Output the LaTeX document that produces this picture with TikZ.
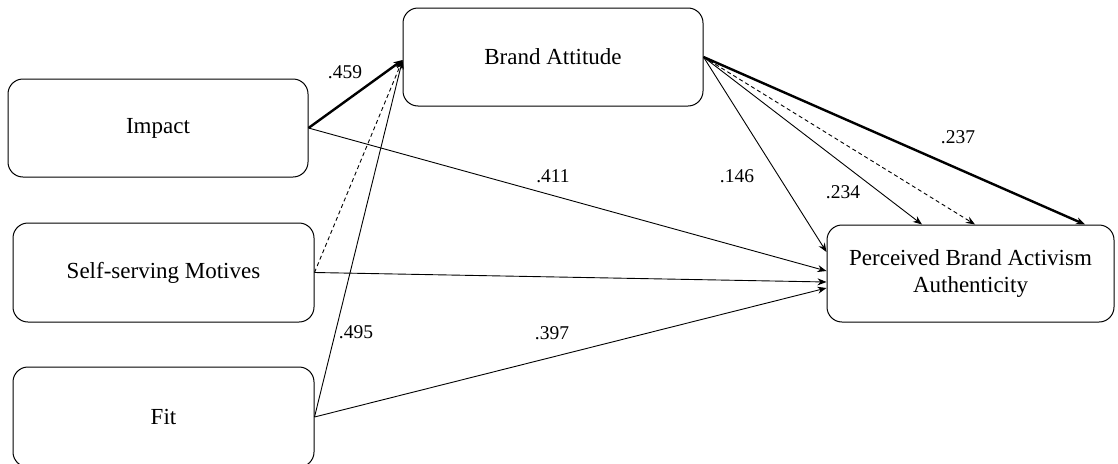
\documentclass[tikz,border=0pt]{standalone}
\usepackage{fontspec}
\setmainfont{Liberation Serif}
\usetikzlibrary{arrows.meta}
\tikzset{
  box/.style={draw, rounded corners=15pt, line width=1pt, align=center,
    font=\fontsize{23}{27}\selectfont, inner sep=0pt},
  coef/.style={font=\fontsize{19.5}{22}\selectfont, inner sep=0pt},
  path/.style={line width=0.9pt, -{Stealth[length=9pt,width=7pt]}},
  strong/.style={line width=2.4pt, -{Stealth[length=9pt,width=7pt]}},
  weak/.style={line width=0.9pt, dash pattern=on 4pt off 3pt, -{Stealth[length=9pt,width=7pt]}}
}
\begin{document}
\begin{tikzpicture}[x=1pt,y=-1pt]
\clip (0,0) rectangle (1118,463);
\useasboundingbox (0,0) rectangle (1118,463);

% constructs
\node[box, minimum width=300pt, minimum height=98pt] (imp) at (158,128) {Impact};
\node[box, minimum width=301pt, minimum height=99pt] (ssm) at (163.5,272.5) {Self-serving Motives};
\node[box, minimum width=301pt, minimum height=100pt] (fit) at (163.5,417) {Fit};
\node[box, minimum width=300pt, minimum height=98pt] (ba) at (553,57) {Brand Attitude};
\node[box, minimum width=287pt, minimum height=97pt] (pba) at (970.5,273.5) {Perceived Brand Activism\\Authenticity};

% arrow end points on the outcome box
\coordinate (baIn) at ([yshift=-3pt]ba.west);
\coordinate (pL1) at ([yshift=21.5pt]pba.west);
\coordinate (pL2) at ([yshift=2.5pt]pba.west);
\coordinate (pL3) at ([yshift=-8.5pt]pba.west);
\coordinate (pL4) at ([yshift=-14.5pt]pba.west);
\coordinate (pT1) at ([xshift=-48.5pt]pba.north);
\coordinate (pT2) at ([xshift=4.5pt]pba.north);
\coordinate (pT3) at ([xshift=114.5pt]pba.north);

% predictors -> brand attitude
\draw[strong] (imp.east) -- (baIn);
\draw[weak] (ssm.east) -- (baIn);
\draw[path] (fit.east) -- (baIn);

% predictors -> authenticity
\draw[path] (imp.east) -- (pL2);
\draw[path] (ssm.east) -- (pL3);
\draw[path] (fit.east) -- (pL4);

% brand attitude -> authenticity
\draw[path] (ba.east) -- (pL1);
\draw[path] (ba.east) -- (pT1);
\draw[weak] (ba.east) -- (pT2);
\draw[strong] (ba.east) -- (pT3);

% coefficients
\node[coef] (c459) at (345,72) {.459};
\node[coef] (c411) at (553,176) {.411};
\node[coef] (c495) at (356,332) {.495};
\node[coef] (c397) at (552,333) {.397};
\node[coef] (c146) at (737,176) {.146};
\node[coef] (c234) at (843,192) {.234};
\node[coef] (c237) at (958,137) {.237};
\end{tikzpicture}
\end{document}
